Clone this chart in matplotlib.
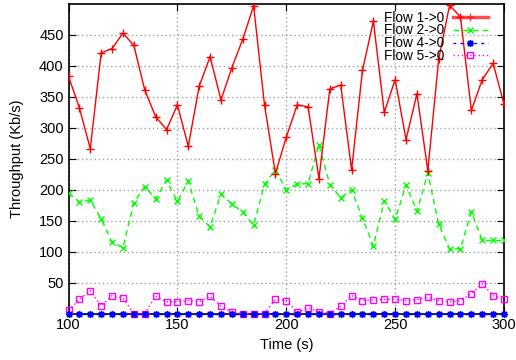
import numpy as np
import matplotlib.pyplot as plt

plt.rcParams['font.family'] = ['Liberation Sans', 'DejaVu Sans']

# time axis, one sample every 5 s
time = np.arange(100, 301, 5)

flow1 = [383, 332, 266, 421, 428, 453, 433, 361, 318, 297,
         337, 270, 367, 415, 345, 397, 443, 497, 337, 226,
         285, 337, 334, 218, 363, 369, 232, 393, 472, 325,
         378, 281, 355, 231, 411, 498, 479, 328, 378, 404, 338]
flow2 = [194, 180, 183, 153, 115, 106, 179, 205, 185, 215,
         181, 214, 157, 140, 193, 177, 164, 143, 209, 232,
         200, 209, 210, 273, 208, 187, 200, 154, 109, 182,
         152, 208, 165, 227, 144, 104, 105, 164, 118, 118, 118]
flow4 = [0] * 41
flow5 = [5, 23, 37, 12, 29, 25, 0, 0, 28, 19,
         19, 21, 19, 28, 12, 2, 0, 0, 0, 23,
         21, 2, 9, 3, 0, 12, 29, 21, 22, 23,
         23, 21, 22, 26, 21, 19, 21, 32, 48, 29, 23]

fig = plt.figure(figsize=(5.16, 3.6), dpi=100)
ax = fig.add_axes([0.1328, 0.129, 0.844, 0.86])

ax.plot(time, flow1, color='#ff0000', lw=1, marker='+', ms=6, mew=1,
        label='Flow 1->0', zorder=5)
ax.plot(time, flow2, color='#00ff00', lw=1, ls=(0, (4, 3)), marker='x', ms=5, mew=1,
        label='Flow 2->0', zorder=4)
ax.plot(time, flow4, color='#0000ff', lw=1, ls=(0, (2, 3)), marker=(8, 2, 0), ms=5, mew=1,
        label='Flow 4->0', zorder=6, clip_on=False)
ax.plot(time, flow5, color='#ff00ff', lw=1, ls=(0, (1, 2)), marker='s', ms=5, mew=1,
        mfc='none', label='Flow 5->0', zorder=3, clip_on=False)

ax.set_xlim(100, 300)
ax.set_ylim(0, 500)
ax.set_xticks([100, 150, 200, 250, 300])
ax.set_yticks([50, 100, 150, 200, 250, 300, 350, 400, 450])
ax.tick_params(direction='in', top=True, right=True, labelsize=10.5, length=5)
ax.grid(True, color='#a0a0a0', ls=(0, (1, 2)), lw=1)
for s in ax.spines.values():
    s.set_linewidth(1.2)

ax.set_xlabel('Time (s)', fontsize=10.5)
ax.set_ylabel('Throughput (Kb/s)', fontsize=10.5, labelpad=11)

leg = ax.legend(loc='upper right', bbox_to_anchor=(0.9725, 0.992), frameon=False,
                markerfirst=False, fontsize=9.8, handlelength=2.6,
                labelspacing=-0.08, borderaxespad=0, borderpad=0.3, handletextpad=0.6)
leg.get_lines()[0].set_linewidth(2.5)
leg.get_lines()[0].set_alpha(0.7)

fig.savefig('out.png', dpi=100)
